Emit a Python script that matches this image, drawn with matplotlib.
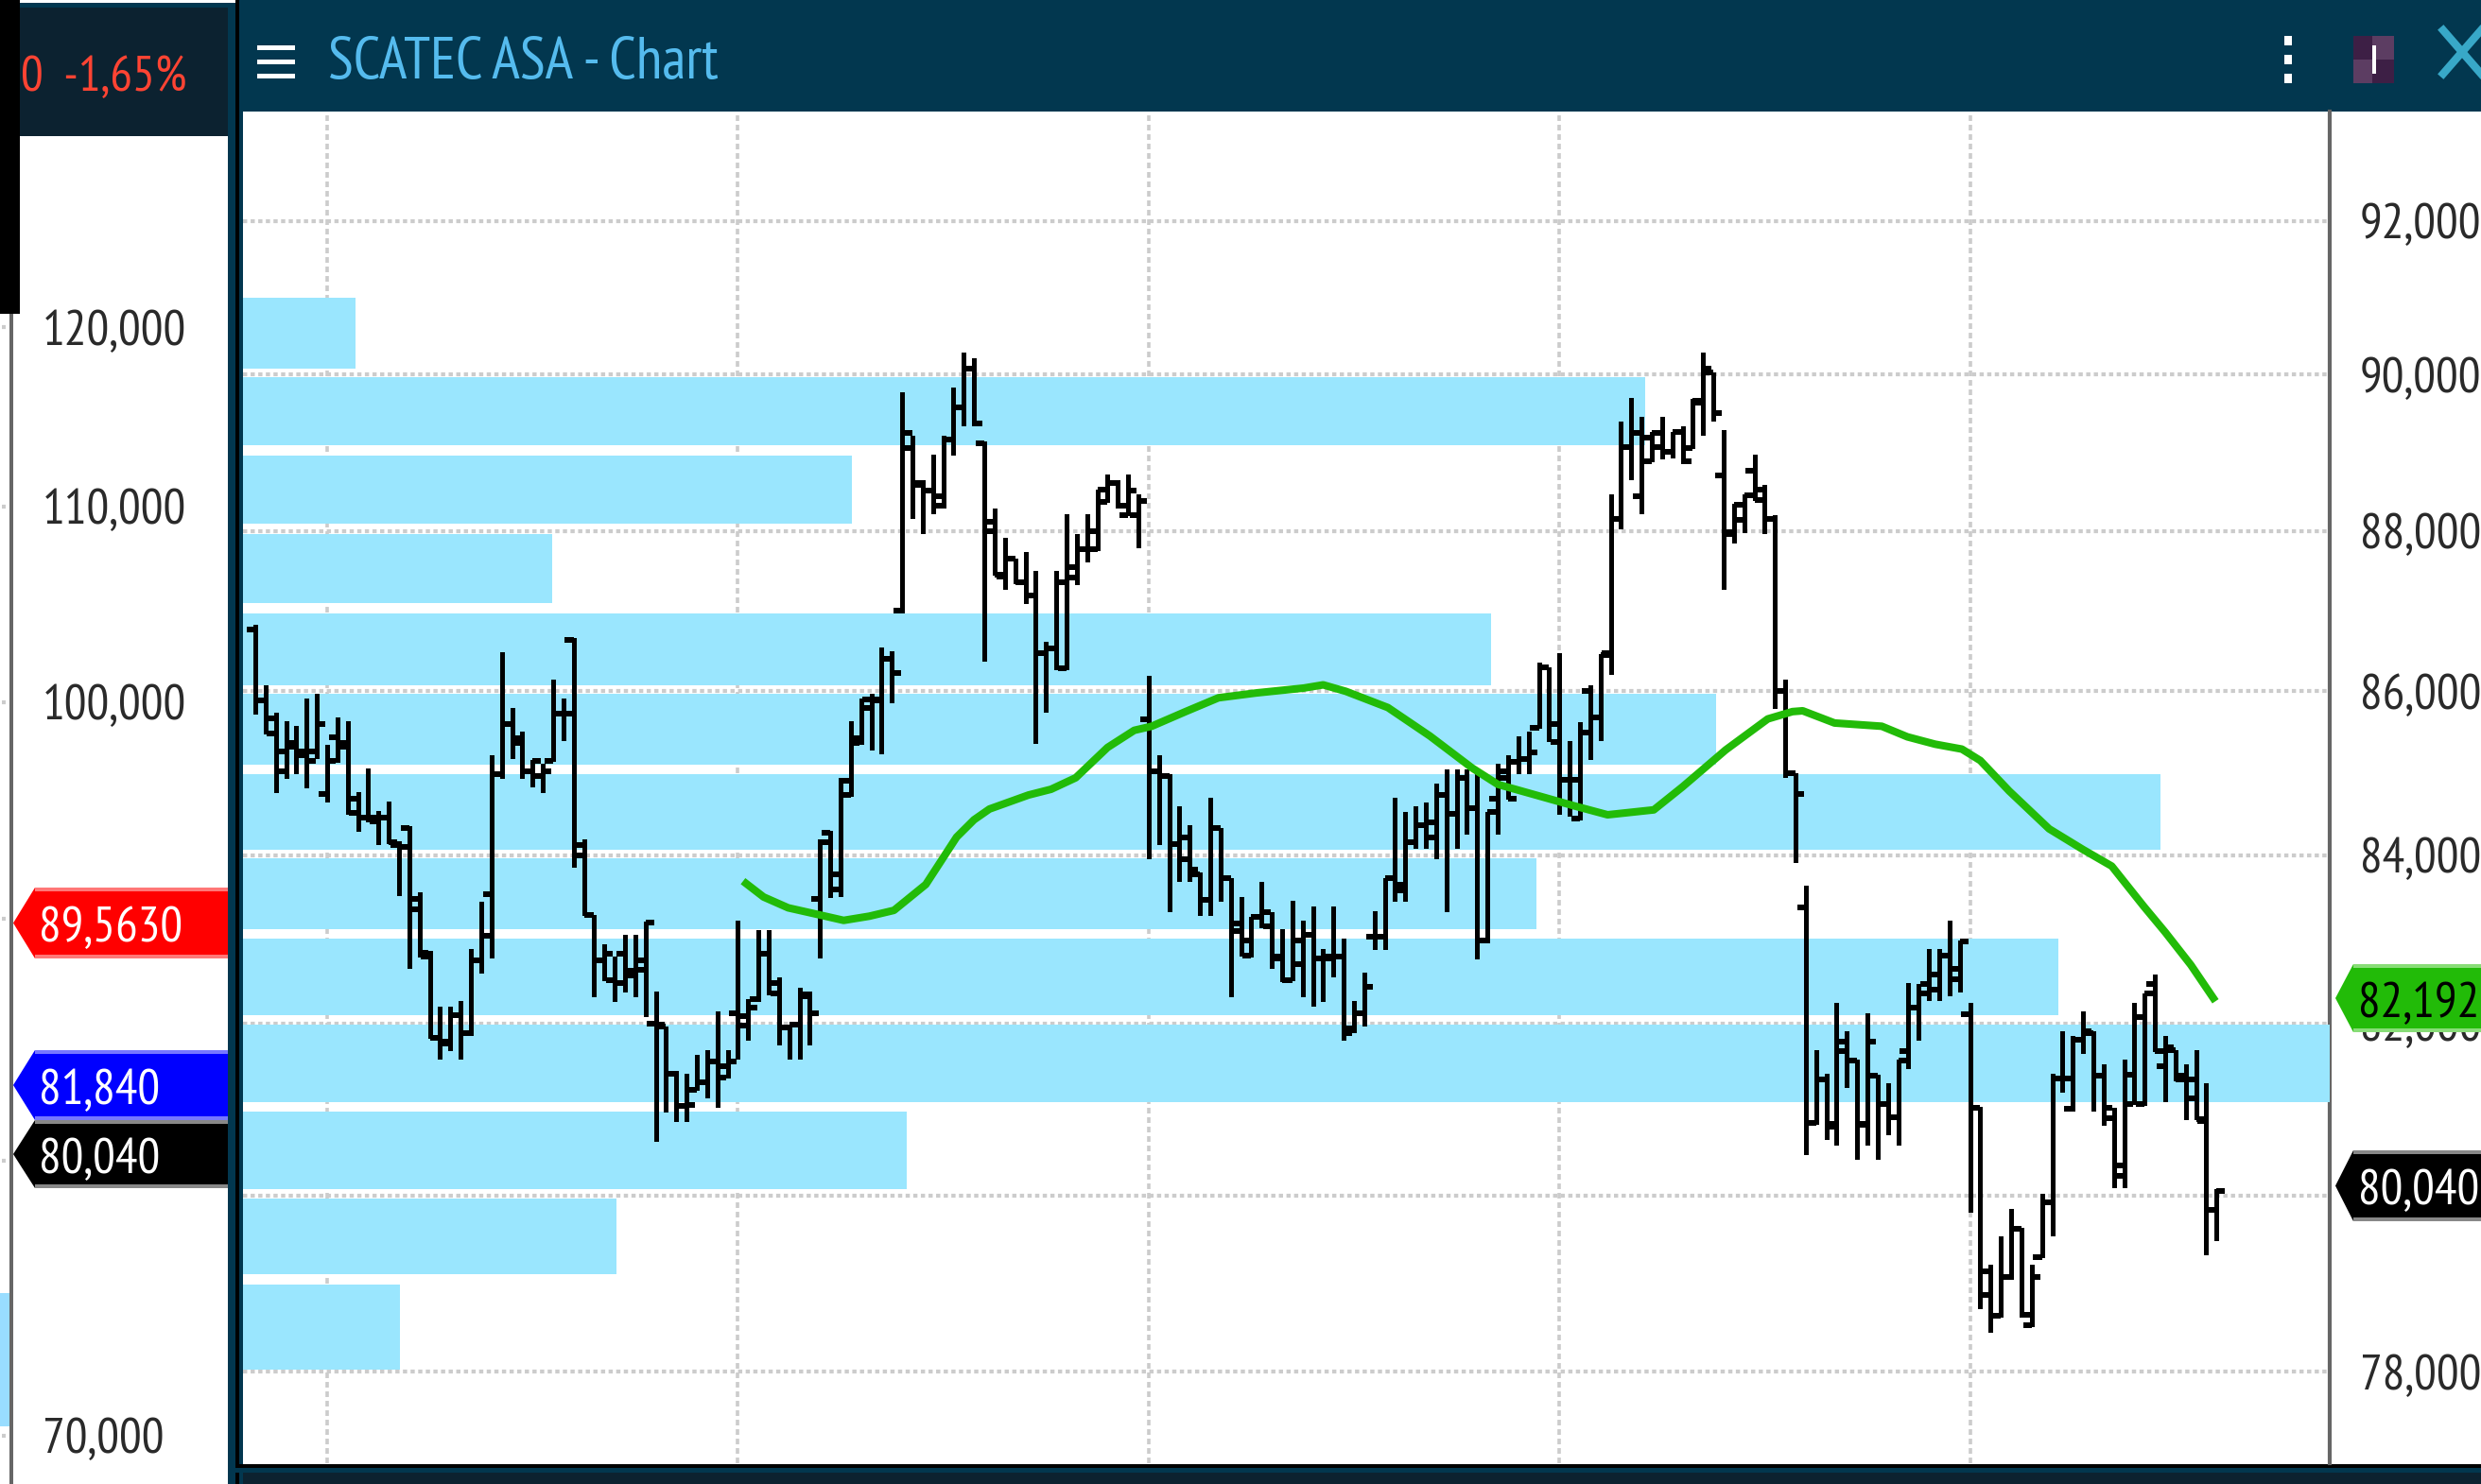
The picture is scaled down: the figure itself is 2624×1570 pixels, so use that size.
import matplotlib
matplotlib.use("Agg")
import matplotlib.pyplot as plt
from matplotlib.patches import Polygon, Rectangle
from matplotlib.ticker import NullLocator, FixedLocator, FuncFormatter
import numpy as np

W, H = 2624, 1570
plt.rcParams['lines.scale_dashes'] = False
plt.rcParams['font.family'] = ['PT Sans Narrow', 'Liberation Sans Narrow', 'Liberation Sans', 'DejaVu Sans']

title = "SCATEC ASA - Chart"
change_label = "0  -1,65%"
right_ticks = [92, 90, 88, 86, 84, 82, 80, 78]
left_ticks = [120, 110, 100, 70]
left_minor = [120, 110, 100, 90, 80, 70]
date_ticks = [7, 47, 87, 127, 167]
ma_last = "82,192"
last_price = "80,040"
left_flags = ["89,5630", "81,840", "80,040"]

highs = [86.83,86.08,85.74,85.63,85.57,85.91,85.97,85.34,85.68,85.63,84.76,85.05,84.54,84.65,84.17,84.35,83.56,82.86,82.2,82.2,82.26,82.88,83.44,85.22,86.48,85.8,85.5,85.16,85.11,86.14,85.91,86.66,84.19,83.29,82.93,82.79,83.05,83.05,83.2,82.37,81.96,81.44,81.41,81.63,81.68,82.14,81.68,83.22,82.29,83.1,83.1,82.54,81.99,82.42,82.37,84.19,84.29,84.94,85.63,85.91,85.97,86.54,
86.49,89.77,89.21,88.65,88.97,89.21,89.83,90.28,90.21,89.14,88.29,87.91,87.65,87.73,87.5,86.61,87.5,88.21,87.96,88.21,88.53,88.72,88.65,88.72,88.47,
86.19,85.22,84.98,84.59,84.36,83.79,84.7,84.33,83.73,83.5,83.26,83.68,83.32,83.11,83.45,83.22,83.39,82.88,83.39,83.0,82.26,82.6,83.33,83.73,84.7,84.53,84.59,84.64,84.87,85.04,85.04,85.04,84.98,84.52,85.11,85.22,85.45,85.51,86.36,86.3,86.47,85.39,85.62,86.08,86.46,
88.47,89.39,89.7,89.45,89.26,89.45,89.26,89.33,89.69,90.28,90.02,89.28,88.34,88.46,88.97,88.59,88.2,86.14,85.0,
83.63,81.69,81.41,82.24,81.91,81.58,82.12,81.4,81.3,81.57,82.48,82.46,82.88,82.88,83.22,82.98,82.24,81.02,79.21,79.53,79.85,79.63,79.21,80.02,81.41,81.91,81.85,82.14,81.91,81.52,81.01,81.57,82.24,82.35,82.58,81.85,81.69,81.52,81.69,81.3,80.07]
lows = [85.72,85.48,84.76,84.94,85.0,84.82,85.18,84.65,85.13,84.5,84.3,84.41,84.14,84.15,83.52,82.66,82.79,81.83,81.59,81.69,81.59,81.86,82.6,82.78,84.94,85.18,84.94,84.83,84.76,85.15,85.4,83.86,83.29,82.32,82.51,82.26,82.38,82.32,82.09,80.63,80.97,80.86,80.86,81.22,81.13,81.02,81.37,81.59,81.81,82.26,82.34,81.75,81.59,81.59,81.75,82.78,83.5,83.51,84.72,85.35,85.29,85.24,
85.86,86.98,88.16,87.97,88.22,88.3,88.97,89.34,89.35,86.38,87.45,87.27,87.35,87.09,85.36,85.75,86.27,86.27,87.33,87.62,87.76,88.37,88.3,88.2,87.79,
83.97,84.14,83.33,83.69,83.69,83.29,83.29,83.45,82.32,82.8,82.79,83.14,82.66,82.5,82.51,82.32,82.21,82.26,82.55,81.81,81.9,81.97,82.88,82.88,83.45,83.45,84.09,84.09,83.97,83.33,84.09,84.26,82.77,82.96,84.26,84.68,85.0,85.0,85.55,85.39,84.5,84.48,84.43,85.17,85.4,
86.21,88.03,88.66,88.22,88.88,88.92,88.93,88.86,89.05,89.22,89.4,87.27,87.86,87.99,88.39,87.97,85.8,84.95,83.92,
80.48,80.83,80.65,80.59,81.25,80.42,80.59,80.42,80.7,80.59,81.47,81.81,82.27,82.27,82.33,82.37,79.81,78.72,78.45,78.62,79.05,78.62,78.51,79.29,79.54,81.2,80.98,81.65,80.98,80.81,80.09,80.09,81.06,81.05,81.67,81.09,81.33,80.88,80.88,79.33,79.49]
opens = [86.76,85.89,85.48,85.02,85.32,85.22,85.26,84.74,85.43,85.37,84.51,84.46,84.41,84.46,84.13,84.33,83.48,82.79,81.83,81.76,82.1,81.88,82.74,83.53,84.98,85.6,85.37,85.02,84.96,85.15,85.73,86.64,84.12,83.29,82.74,82.51,82.82,82.62,82.74,82.0,81.96,81.41,81.03,81.22,81.31,81.55,81.5,82.12,81.97,82.29,82.82,82.35,81.95,81.99,82.32,83.48,84.27,83.59,84.73,85.42,85.9,85.89,
86.4,87.0,89.25,88.59,88.51,88.44,89.16,89.58,90.07,89.12,88.12,87.43,87.65,87.36,87.19,86.47,86.53,86.28,87.41,87.77,87.77,88.37,88.61,88.2,88.2,
85.66,85.02,84.96,84.14,84.22,83.77,83.47,84.33,83.73,83.09,82.8,83.26,83.15,82.77,82.51,82.7,83.05,82.77,82.79,82.79,81.94,82.12,83.02,83.02,83.73,83.58,84.16,84.37,84.4,84.73,84.5,84.94,84.57,82.98,84.68,85.02,85.14,85.17,85.55,86.3,85.38,84.92,84.45,86.0,85.68,
86.47,88.15,89.07,88.44,88.88,89.07,89.0,89.26,89.06,89.64,90.02,88.7,87.96,88.14,88.76,88.52,88.15,86.0,85.0,
83.37,80.84,81.34,80.83,81.78,81.56,80.81,81.39,81.06,80.9,81.67,82.19,82.46,82.4,82.8,82.52,82.11,81.01,78.87,78.63,79.07,79.62,78.52,79.29,79.92,81.35,81.0,81.81,81.89,81.39,80.89,80.22,81.4,81.06,82.46,81.5,81.68,81.39,81.12,80.86,79.84]
closes = [85.89,85.67,85.26,85.37,85.26,85.15,85.6,85.15,85.32,84.68,84.46,84.46,84.46,84.16,84.1,83.35,82.83,81.83,81.78,82.1,81.88,82.74,83.04,84.98,85.6,85.42,85.02,85.15,85.02,85.73,85.73,84.0,83.29,82.74,82.82,82.47,82.57,82.63,83.19,81.99,81.41,81.03,81.04,81.31,81.55,81.37,81.55,82.08,82.18,82.82,82.47,81.95,81.99,82.34,82.12,84.16,83.77,84.9,85.37,85.79,85.9,86.4,
86.23,89.06,88.61,88.51,88.32,89.16,89.58,90.07,89.37,88.0,87.45,87.65,87.36,87.19,86.47,86.53,87.36,87.54,87.77,88.0,88.53,88.61,88.32,88.51,88.38,
85.02,84.96,84.14,83.95,83.83,83.47,84.33,83.73,83.18,82.98,83.26,83.32,82.79,82.51,82.98,83.05,82.77,82.77,82.79,81.89,82.12,82.43,83.02,83.73,83.65,84.16,84.37,84.22,84.73,84.5,84.94,84.57,82.98,84.52,84.94,84.68,85.17,85.25,86.3,85.6,84.92,84.92,85.49,85.68,86.45,
88.15,89.07,89.25,89.19,89.25,89.0,89.26,88.88,89.66,90.07,89.5,87.99,88.33,88.45,88.39,88.15,86.0,85.0,84.74,
80.84,81.34,80.79,81.67,81.56,80.83,81.78,81.06,80.9,81.56,82.19,82.35,82.58,82.8,82.64,82.97,81.01,79.13,78.63,79.07,79.62,78.64,79.07,79.92,81.35,81.35,81.81,81.91,81.39,81.01,80.34,81.06,82.07,82.35,81.67,81.72,81.34,81.34,80.88,79.84,80.05]

ma_index = [47.5,49.5,51.9,54.8,57.3,59.8,62.2,65.3,68.3,70,71.5,75.3,77.5,79.9,83.0,85.6,87.3,90.6,93.8,97.5,102.1,104,106.2,110.3,114.4,118.5,121,124.7,128.4,131.7,136.2,139,143.2,147.3,149.7,150.7,153.8,158.4,160.9,163.6,166.2,168,170.8,174.7,178,180.8,183.9,186,188.5,190.9]
ma_values = [83.69,83.5,83.37,83.29,83.22,83.27,83.34,83.65,84.22,84.43,84.56,84.73,84.8,84.94,85.31,85.52,85.57,85.75,85.92,85.98,86.04,86.08,86.0,85.8,85.45,85.06,84.86,84.73,84.6,84.49,84.55,84.83,85.28,85.66,85.75,85.76,85.61,85.57,85.44,85.35,85.29,85.15,84.78,84.32,84.07,83.87,83.39,83.08,82.69,82.26]

band_low = [90.08,89.09,88.09,87.09,86.08,85.10,84.07,83.11,82.10,81.08,80.07,79.10,78.03]
band_high = [90.99,89.96,88.96,87.96,86.97,85.97,84.99,83.97,83.0,81.98,80.97,79.96,78.98]
band_volume = [5.4,67.2,29.2,14.8,59.8,70.6,91.9,62.0,87.0,100,31.8,17.9,7.5]

TEAL = '#02374F'
DARK = '#0C2230'
BLUE = '#9AE6FE'
GREEN = '#22BB08'
GRID = '#CCCCCC'
TXT = '#2A2A2A'
LABEL_SIZE = 38

fig = plt.figure(figsize=(W / 100, H / 100), dpi=100, facecolor='white')


def frame(x0, y0, x1, y1):
    return [x0 / W, 1 - y1 / H, (x1 - x0) / W, (y1 - y0) / H]


# ---- background chrome in pixel space
bg = fig.add_axes([0, 0, 1, 1], zorder=0)
bg.set_xlim(0, W); bg.set_ylim(H, 0); bg.axis('off')


def rect(a, x0, y0, x1, y1, c, z=1):
    a.add_patch(Rectangle((x0, y0), x1 - x0, y1 - y0, fc=c, ec='none', zorder=z))


rect(bg, 0, 0, 21, 332, '#000000')
rect(bg, 21, 3, 241, 8, TEAL)
rect(bg, 21, 8, 241, 144, DARK)
rect(bg, 10, 332, 14, H, '#666666')
rect(bg, 0, 1368, 10, 1509, '#99DDFF')
rect(bg, 241, 3, 249, H, TEAL)
rect(bg, 249, 0, 253, H, '#000000')
rect(bg, 253, 0, 257, H, TEAL)
rect(bg, 253, 0, W, 118, TEAL)
rect(bg, 249, 1549, W, 1553, '#000000')
rect(bg, 249, 1553, W, 1558, TEAL)
rect(bg, 257, 1558, W, H, DARK)

# ---- left price scale (another chart, log scale)
left = fig.add_axes(frame(14, 144, 241, 1570), zorder=1)
left.patch.set_alpha(0)
left.set_yscale('log')
yt = lambda y: 100 * np.exp((743 - y) / 2175)
left.set_ylim(yt(1570), yt(144))
left.set_xlim(0, 1)
for s in left.spines.values():
    s.set_visible(False)
left.set_xticks([])
left.yaxis.set_minor_locator(NullLocator())
left.yaxis.set_major_locator(FixedLocator(left_ticks))
left.yaxis.set_major_formatter(FuncFormatter(lambda v, p: f"{int(v)},000"))
left.tick_params(axis='y', direction='in', length=0, pad=-22, labelsize=LABEL_SIZE, labelcolor=TXT)
for lb in left.get_yticklabels():
    lb.set_ha('left')
left.hlines(left_minor, -0.055, -0.037, color=GRID, lw=3, clip_on=False)

# ---- main chart
box = frame(257, 118, 2464, 1548)
ymin = 92 * np.exp(-(1548 - 234) / 7375)
ymax = 92 * np.exp((234 - 118) / 7375)
n = len(highs)
idx = np.arange(n)
xmin = (257 - 270) / 10.86
xmax = (2464 - 270) / 10.86

base = fig.add_axes(box, zorder=2)
base.set_yscale('log')
base.set_ylim(ymin, ymax)
base.set_xlim(xmin, xmax)
base.set_xticks(date_ticks)
base.set_xticklabels([])
base.yaxis.set_minor_locator(NullLocator())
base.yaxis.set_major_locator(FixedLocator(right_ticks))
base.yaxis.set_major_formatter(FuncFormatter(lambda v, p: f"{int(v)},000"))
base.yaxis.tick_right()
base.tick_params(axis='both', length=0)
base.tick_params(axis='y', pad=23, labelsize=LABEL_SIZE, labelcolor=TXT)
base.xaxis.grid(True, color=GRID, lw=2.6, linestyle=(0, (4.3, 2.9)))
base.yaxis.grid(True, color=GRID, lw=3.0, linestyle=(0, (3.2, 2.6)))
for k in ('left', 'top', 'bottom'):
    base.spines[k].set_visible(False)
base.spines['right'].set_color('#666666')
base.spines['right'].set_linewidth(3)

vol = fig.add_axes(box, zorder=3, sharey=base)
vol.set_xlim(0, 100)
vol.axis('off')
vol.patch.set_alpha(0)
vol.barh(band_low, band_volume, height=np.array(band_high) - np.array(band_low),
         left=0, align='edge', color=BLUE, linewidth=0)

pr = fig.add_axes(box, zorder=4, sharey=base)
pr.set_xlim(xmin, xmax)
pr.axis('off')
pr.patch.set_alpha(0)
pr.vlines(idx, lows, highs, color='black', lw=2.4, antialiased=False, capstyle='butt')
pr.hlines(opens, idx - 0.85, idx, color='black', lw=2.9, antialiased=False)
pr.hlines(closes, idx, idx + 0.85, color='black', lw=2.9, antialiased=False)
pr.plot(ma_index, ma_values, color=GREEN, lw=5.8, solid_capstyle='butt', solid_joinstyle='round')

# ---- foreground: header, flags
fg = fig.add_axes([0, 0, 1, 1], zorder=5)
fg.set_xlim(0, W); fg.set_ylim(H, 0); fg.axis('off'); fg.patch.set_alpha(0)

for y in (48, 63, 78):
    rect(fg, 272, y, 312, y + 5, 'white')
fg.text(347, 67, title, color='#55BBEE', fontsize=45, va='center', ha='left')
fg.text(22, 83, change_label, color='#FF4433', fontsize=38, va='center', ha='left')
for y in (38, 58, 78):
    rect(fg, 2416, y, 2424, y + 10, 'white')
rect(fg, 2489, 38, 2509, 63, '#3D1F45')
rect(fg, 2509, 38, 2532, 63, '#5C3D62')
rect(fg, 2489, 63, 2509, 88, '#5C3D62')
rect(fg, 2509, 63, 2532, 88, '#3D1F45')
rect(fg, 2509, 48, 2513, 78, 'white', 2)
fg.plot([2584, 2624], [32, 78], color='#38A8C8', lw=6, clip_on=True)
fg.plot([2584, 2624], [78, 32], color='#38A8C8', lw=6, clip_on=True)


def flag(tip, body, end, top, bot, fill, edge, text, tcolor, tx):
    mid = (top + bot) / 2
    fg.add_patch(Polygon([(tip, mid), (body, top), (end, top), (end, bot), (body, bot)],
                         closed=True, fc=fill, ec='none', zorder=3))
    rect(fg, body, top, end, top + 4, edge, 4)
    rect(fg, body, bot - 4, end, bot, edge, 4)
    fg.text(tx, mid + 7, text, color=tcolor, fontsize=LABEL_SIZE, va='center', ha='left', zorder=5)


flag(14, 37, 241, 939, 1014, '#FF0000', '#FF7777', left_flags[0], 'white', 41)
flag(14, 37, 241, 1111, 1185, '#0000FF', '#7777FF', left_flags[1], 'white', 41)
flag(14, 37, 241, 1185, 1257, '#000000', '#888888', left_flags[2], 'white', 41)
flag(2470, 2489, W, 1020, 1092, GREEN, '#88DD77', ma_last, 'black', 2494)
flag(2470, 2489, W, 1217, 1292, '#000000', '#888888', last_price, 'white', 2494)

fig.savefig('out.png', dpi=100)
